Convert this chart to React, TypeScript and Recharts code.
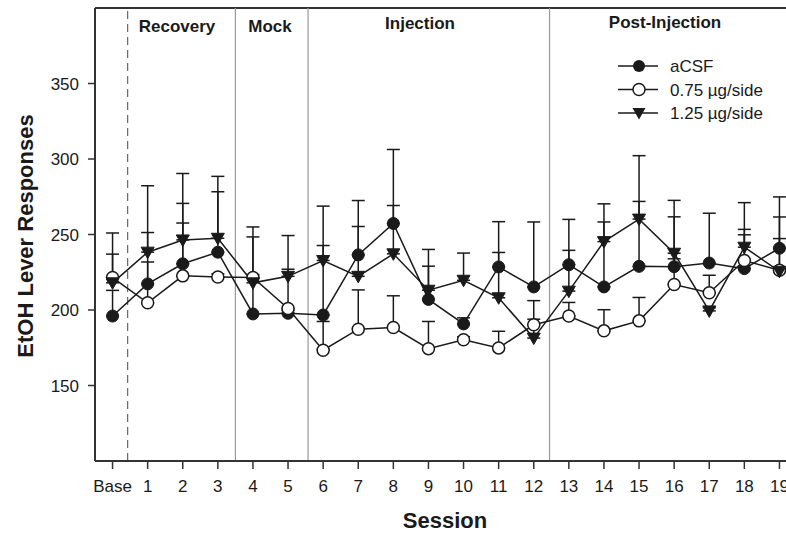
import React from "react";
import {
  LineChart,
  Line,
  XAxis,
  YAxis,
  ErrorBar,
  ReferenceLine,
} from "recharts";

// sessions: Base, 1..19
const sessionLabels = [
  "Base", "1", "2", "3", "4", "5", "6", "7", "8", "9",
  "10", "11", "12", "13", "14", "15", "16", "17", "18", "19",
];
const yTicks = [150, 200, 250, 300, 350];

// mean lever responses
const acsf = [196, 217.3, 230.6, 238.3, 197.4, 197.8, 196.7, 236.5, 257.3, 207, 190.8, 228.5, 215.3, 230, 215.3, 228.9, 228.7, 231.1, 227.4, 240.9];
const low = [221.5, 204.8, 222.6, 221.9, 221.5, 201, 173.4, 187.3, 188.4, 174.4, 180.3, 174.9, 190.2, 196, 186.2, 192.8, 216.9, 211.4, 232.8, 226.3];
const high = [218, 238.3, 246.4, 247.5, 218, 222.3, 232.8, 222.3, 237.2, 213.1, 219.7, 208.1, 181.4, 212.5, 245.3, 260.2, 237.6, 199.4, 241.6, 225.6];

// upper SEM only
const acsfErr = [17, 34, 40, 40, 51, 2, 46, 36, 49, 22, 4, 30, 43, 30, 43, 43, 33, 33, 26, 34];
const lowErr = [15.5, 27, 35, 2, 2, 26, 19, 26, 21, 18, 2, 11, 16, 9, 14, 15.5, 17, 11.6, 17, 21];
const highErr = [33, 44, 44, 41, 37, 27, 36, 33, 32, 27, 18, 30, 12.5, 27, 25, 42, 35, 2, 29.5, 36];

// phase boundaries (session units)
const dashedBoundary = 0.43;
const phaseBoundaries = [3.5, 5.57, 12.45];

const data = sessionLabels.map((_, i) => ({
  x: i,
  acsf: acsf[i],
  low: low[i],
  high: high[i],
  acsfErr: [0, acsfErr[i]],
  lowErr: [0, lowErr[i]],
  highErr: [0, highErr[i]],
}));

const FONT = "'Liberation Sans', Arial, Helvetica, sans-serif";
const INK = "#1a1a1a";

const FilledDot = (p: any) => (
  <circle key={`a${p.index}`} cx={p.cx} cy={p.cy} r={6} fill={INK} stroke={INK} strokeWidth={1} />
);
const OpenDot = (p: any) => (
  <circle key={`o${p.index}`} cx={p.cx} cy={p.cy} r={6} fill="#fff" stroke={INK} strokeWidth={1.5} />
);
const TriDot = (p: any) => (
  <path
    key={`t${p.index}`}
    d={`M${p.cx - 6.5},${p.cy - 5} L${p.cx + 6.5},${p.cy - 5} L${p.cx},${p.cy + 6.5} Z`}
    fill={INK}
    stroke={INK}
    strokeWidth={1}
  />
);

const legendRows = [
  { label: "aCSF", kind: "filled" },
  { label: "0.75 \u00b5g/side", kind: "open" },
  { label: "1.25 \u00b5g/side", kind: "tri" },
];

export default function App() {
  return (
    <div
      style={{
        position: "absolute",
        left: 0,
        top: 0,
        width: 786,
        height: 536,
        overflow: "hidden",
        background: "#fff",
        fontFamily: FONT,
      }}
    >
      <LineChart
        width={810}
        height={536}
        data={data}
        margin={{ top: 8, right: 13, left: 0, bottom: 0 }}
      >
        <XAxis
          dataKey="x"
          type="number"
          domain={[-0.5, 19.5]}
          ticks={data.map((d) => d.x)}
          tickFormatter={(v: number) => sessionLabels[v]}
          interval={0}
          height={75}
          tickSize={8}
          tickMargin={11}
          axisLine={{ stroke: "#333", strokeWidth: 2 }}
          tickLine={{ stroke: "#333", strokeWidth: 1.5 }}
          tick={{ fontSize: 17, fill: INK, fontFamily: FONT }}
        />
        <YAxis
          type="number"
          domain={[100, 400]}
          ticks={yTicks}
          width={95}
          tickSize={7}
          tickMargin={9}
          axisLine={{ stroke: "#333", strokeWidth: 2 }}
          tickLine={{ stroke: "#333", strokeWidth: 1.5 }}
          tick={{ fontSize: 17, fill: INK, fontFamily: FONT }}
        />
        <ReferenceLine y={400} stroke="#333" strokeWidth={2} />
        <ReferenceLine x={dashedBoundary} stroke="#666" strokeWidth={1.2} strokeDasharray="8 5" />
        {phaseBoundaries.map((b) => (
          <ReferenceLine key={b} x={b} stroke="#999" strokeWidth={1.2} />
        ))}
        <Line
          dataKey="acsf"
          stroke={INK}
          strokeWidth={1.5}
          dot={FilledDot}
          isAnimationActive={false}
        >
          <ErrorBar dataKey="acsfErr" direction="y" width={6.5} stroke={INK} strokeWidth={1.5} />
        </Line>
        <Line
          dataKey="low"
          stroke={INK}
          strokeWidth={1.5}
          dot={OpenDot}
          isAnimationActive={false}
        >
          <ErrorBar dataKey="lowErr" direction="y" width={6.5} stroke={INK} strokeWidth={1.5} />
        </Line>
        <Line
          dataKey="high"
          stroke={INK}
          strokeWidth={1.5}
          dot={TriDot}
          isAnimationActive={false}
        >
          <ErrorBar dataKey="highErr" direction="y" width={6.5} stroke={INK} strokeWidth={1.5} />
        </Line>
      </LineChart>

      <svg
        width={786}
        height={536}
        style={{ position: "absolute", left: 0, top: 0, pointerEvents: "none" }}
      >
        <g fontFamily={FONT} fill={INK} fontWeight="bold" fontSize={17} textAnchor="middle">
          <text x={177} y={32}>Recovery</text>
          <text x={270} y={32}>Mock</text>
          <text x={420} y={29}>Injection</text>
          <text x={665} y={28}>Post-Injection</text>
        </g>
        <text
          transform="translate(33,236) rotate(-90)"
          textAnchor="middle"
          fontFamily={FONT}
          fontWeight="bold"
          fontSize={22}
          fill={INK}
        >
          EtOH Lever Responses
        </text>
        <text
          x={445}
          y={528}
          textAnchor="middle"
          fontFamily={FONT}
          fontWeight="bold"
          fontSize={22}
          fill={INK}
        >
          Session
        </text>
        {legendRows.map((r, i) => {
          const cy = 66 + i * 23.5;
          return (
            <g key={r.label}>
              <line x1={618} x2={658} y1={cy} y2={cy} stroke={INK} strokeWidth={1.5} />
              {r.kind === "filled" && <circle cx={639} cy={cy} r={6} fill={INK} />}
              {r.kind === "open" && (
                <circle cx={639} cy={cy} r={6} fill="#fff" stroke={INK} strokeWidth={1.5} />
              )}
              {r.kind === "tri" && (
                <path d={`M632.5,${cy - 5} L645.5,${cy - 5} L639,${cy + 6.5} Z`} fill={INK} />
              )}
              <text x={670} y={cy + 6} fontFamily={FONT} fontSize={17} fill={INK}>
                {r.label}
              </text>
            </g>
          );
        })}
      </svg>
    </div>
  );
}
